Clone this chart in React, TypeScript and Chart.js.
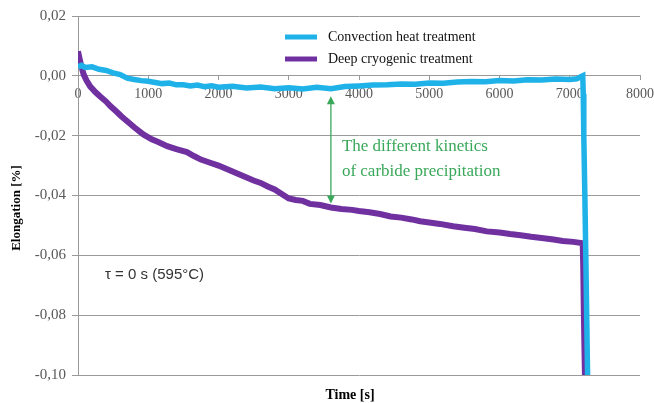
import React, { useEffect, useRef } from "react";
import { Chart, registerables } from "chart.js";

Chart.register(...registerables);

const convTime = [0, 50, 100, 200, 300, 400, 500, 600, 700, 800, 900, 1000, 1100, 1200, 1300, 1400, 1500, 1600, 1700, 1800, 1900, 2000, 2200, 2400, 2600, 2800, 3000, 3200, 3400, 3600, 3800, 4000, 4200, 4400, 4600, 4800, 5000, 5200, 5400, 5600, 5800, 6000, 6200, 6400, 6600, 6800, 7000, 7100, 7150, 7185, 7192, 7200, 7215, 7235, 7255];
const convValues = [0.003, 0.0035, 0.0028, 0.003, 0.0022, 0.0018, 0.001, 0.0004, -0.0008, -0.0012, -0.0016, -0.0018, -0.0022, -0.0026, -0.0024, -0.003, -0.003, -0.0034, -0.0031, -0.0036, -0.0033, -0.0038, -0.0035, -0.0041, -0.0037, -0.0043, -0.004, -0.0044, -0.0038, -0.0043, -0.0036, -0.0034, -0.0031, -0.003, -0.0027, -0.0028, -0.0024, -0.0025, -0.0021, -0.0019, -0.002, -0.0016, -0.0017, -0.0013, -0.0014, -0.0011, -0.0012, -0.001, -0.0004, 0.0, -0.006, -0.02, -0.04, -0.07, -0.102];

const cryoTime = [0, 20, 50, 80, 120, 175, 250, 320, 400, 460, 550, 620, 700, 800, 930, 1050, 1150, 1270, 1400, 1550, 1650, 1750, 1850, 2000, 2100, 2250, 2400, 2500, 2600, 2700, 2800, 2900, 3000, 3100, 3200, 3300, 3450, 3600, 3750, 3900, 4000, 4150, 4300, 4450, 4600, 4750, 4870, 5000, 5150, 5340, 5500, 5650, 5820, 6000, 6150, 6300, 6450, 6600, 6770, 6900, 7050, 7170, 7185, 7192, 7200, 7210, 7218];
const cryoValues = [0.0082, 0.006, 0.003, 0.0005, -0.0015, -0.0036, -0.0055, -0.007, -0.0086, -0.0101, -0.012, -0.0136, -0.0152, -0.0172, -0.0196, -0.0212, -0.0222, -0.0235, -0.0245, -0.0255, -0.0268, -0.028, -0.0288, -0.03, -0.031, -0.0325, -0.034, -0.035, -0.0358, -0.037, -0.038, -0.0395, -0.041, -0.0415, -0.0418, -0.0428, -0.0432, -0.044, -0.0445, -0.0448, -0.0452, -0.0456, -0.0462, -0.047, -0.0474, -0.048, -0.0486, -0.049, -0.0495, -0.0503, -0.0508, -0.0512, -0.052, -0.0524, -0.0529, -0.0533, -0.0538, -0.0542, -0.0547, -0.0552, -0.0555, -0.0559, -0.0562, -0.064, -0.078, -0.092, -0.102];

const seriesNames = ["Convection heat treatment", "Deep cryogenic treatment"];
const seriesColors = ["#1fb2e8", "#7030a0"];

const xTicks = { min: 0, max: 8000, step: 1000 };
const yTicks = { min: -0.1, max: 0.02, step: 0.02 };

const arrowX = 3600;
const arrowTop = -0.0068;
const arrowBottom = -0.0427;
const noteLines = ["The different kinetics", "of carbide precipitation"];
const tauNote = "τ = 0 s (595°C)";
const xTitle = "Time [s]";
const yTitle = "Elongation [%]";

const GREEN = "#3aa85a";
const GRID = "#9a9a9a";
const TICK = "#595959";

export default function App() {
  const ref = useRef<HTMLCanvasElement>(null);
  useEffect(() => {
    if (!ref.current) return;
    const overlay = {
      id: "overlay",
      afterDatasetsDraw(chart: any) {
        const ctx = chart.ctx;
        const xs = chart.scales.x;
        const ys = chart.scales.y;
        ctx.save();
        // arrow
        const ax = xs.getPixelForValue(arrowX);
        const t = ys.getPixelForValue(arrowTop);
        const b = ys.getPixelForValue(arrowBottom);
        ctx.strokeStyle = GREEN;
        ctx.fillStyle = GREEN;
        ctx.lineWidth = 1.3;
        ctx.beginPath();
        ctx.moveTo(ax, t + 6);
        ctx.lineTo(ax, b - 6);
        ctx.stroke();
        ctx.beginPath();
        ctx.moveTo(ax, t);
        ctx.lineTo(ax - 4, t + 8);
        ctx.lineTo(ax + 4, t + 8);
        ctx.closePath();
        ctx.fill();
        ctx.beginPath();
        ctx.moveTo(ax, b);
        ctx.lineTo(ax - 4, b - 8);
        ctx.lineTo(ax + 4, b - 8);
        ctx.closePath();
        ctx.fill();
        // green note
        ctx.font = "17px 'Liberation Serif'";
        ctx.textBaseline = "middle";
        ctx.textAlign = "left";
        ctx.fillText(noteLines[0], ax + 11, 147);
        ctx.fillText(noteLines[1], ax + 11, 172);
        // tau note
        ctx.fillStyle = "#333";
        ctx.font = "15px 'Liberation Sans'";
        ctx.fillText(tauNote, 105, 275);
        // legend
        const ly = [37, 59];
        for (let i = 0; i < 2; i++) {
          ctx.strokeStyle = seriesColors[i];
          ctx.lineWidth = 5;
          ctx.beginPath();
          ctx.moveTo(285, ly[i]);
          ctx.lineTo(317, ly[i]);
          ctx.stroke();
          ctx.fillStyle = "#111";
          ctx.font = "14px 'Liberation Serif'";
          ctx.fillText(seriesNames[i], 328, ly[i]);
        }
        // titles
        ctx.fillStyle = "#000";
        ctx.font = "bold 14px 'Liberation Serif'";
        ctx.textAlign = "center";
        ctx.fillText(xTitle, 350, 395);
        ctx.translate(17, 208);
        ctx.rotate(-Math.PI / 2);
        ctx.font = "bold 13px 'Liberation Serif'";
        ctx.fillText(yTitle, 0, 0);
        ctx.restore();
      },
    };
    const chart = new Chart(ref.current, {
      type: "line",
      data: {
        datasets: [
          {
            label: seriesNames[0],
            data: convTime.map((x, i) => ({ x, y: convValues[i] })),
            borderColor: seriesColors[0],
            borderWidth: 5.5,
            pointRadius: 0,
            tension: 0,
          },
          {
            label: seriesNames[1],
            data: cryoTime.map((x, i) => ({ x, y: cryoValues[i] })),
            borderColor: seriesColors[1],
            borderWidth: 6,
            pointRadius: 0,
            tension: 0,
          },
        ],
      },
      options: {
        animation: false,
        responsive: false,
        layout: { autoPadding: false, padding: { left: 0, right: 14, top: 16, bottom: 28 } },
        plugins: { legend: { display: false }, tooltip: { enabled: false } },
        scales: {
          x: {
            type: "linear",
            position: { y: 0 },
            min: xTicks.min,
            max: xTicks.max,
            afterFit: (s: any) => {
              s.paddingLeft = 0;
              s.paddingRight = 0;
            },
            ticks: {
              stepSize: xTicks.step,
              color: TICK,
              font: { family: "'Liberation Serif'", size: 14 },
              padding: 6,
              maxRotation: 0,
              autoSkip: false,
              callback: (v: any) => String(v),
            },
            grid: { drawOnChartArea: false, drawTicks: true, tickLength: 4, color: GRID },
            border: { display: true, color: GRID },
          },
          y: {
            type: "linear",
            min: yTicks.min,
            max: yTicks.max,
            afterFit: (s: any) => {
              s.width = 78;
            },
            ticks: {
              stepSize: yTicks.step,
              color: TICK,
              font: { family: "'Liberation Serif'", size: 15 },
              padding: 6,
              callback: (v: any) => {
                const n = Math.abs(v) < 1e-9 ? 0 : v;
                return n.toFixed(2).replace(".", ",");
              },
            },
            grid: { color: GRID, tickLength: 6 },
            border: { display: true, color: GRID },
          },
        },
      },
      plugins: [overlay],
    } as any);
    return () => chart.destroy();
  }, []);
  return (
    <div style={{ position: "absolute", left: 0, top: 0, width: 654, height: 403, background: "#fff" }}>
      <canvas ref={ref} width={654} height={403} style={{ width: 654, height: 403 }} />
    </div>
  );
}
